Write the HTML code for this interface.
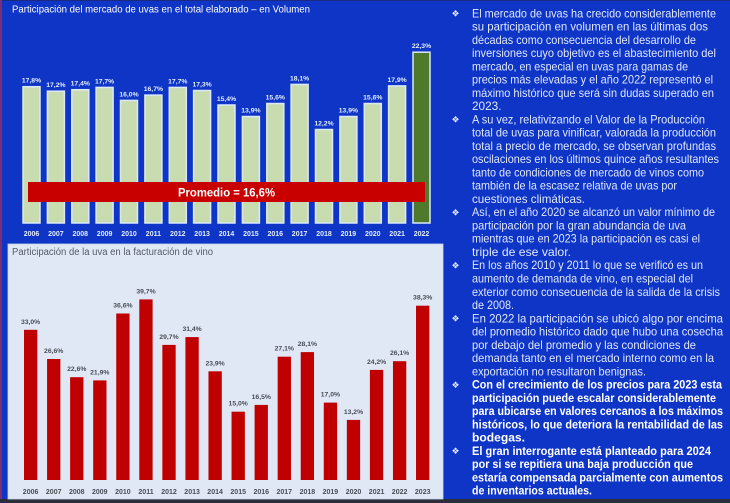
<!DOCTYPE html>
<html><head><meta charset="utf-8"><style>
html,body{margin:0;padding:0;background:#0e35c6;}
svg{display:block;}
.t{font-family:"Liberation Sans",sans-serif;font-size:11.8px;fill:#dfe7ff;}
.b{font-weight:bold;fill:#ffffff;}
.bl{font-family:"DejaVu Sans",sans-serif;font-size:9px;fill:#dfe7ff;}
.lt{font-family:"Liberation Sans",sans-serif;font-size:6.8px;font-weight:bold;fill:#e4edff;text-anchor:middle;}
.yt{font-family:"Liberation Sans",sans-serif;font-size:7px;font-weight:bold;fill:#e4edff;text-anchor:middle;}
.lb{font-family:"Liberation Sans",sans-serif;font-size:6.8px;font-weight:bold;fill:#4a4f58;text-anchor:middle;}
.yb{font-family:"Liberation Sans",sans-serif;font-size:7px;font-weight:bold;fill:#4a4f58;text-anchor:middle;}
</style></head><body>
<svg width="730" height="503" viewBox="0 0 730 503" xmlns="http://www.w3.org/2000/svg">
<rect x="0" y="0" width="730" height="503" fill="#0e35c6"/>
<rect x="0" y="0" width="730" height="1" fill="#1a2a80"/>
<rect x="0" y="0" width="2" height="503" fill="#7a2f72"/>
<rect x="0" y="499" width="730" height="4" fill="#2b2d3a"/>

<!-- top chart -->
<text x="12" y="12.5" font-family="Liberation Sans, sans-serif" font-size="10" fill="#ffffff" textLength="298" lengthAdjust="spacingAndGlyphs">Participación del mercado de uvas en el total elaborado – en Volumen</text>
<g stroke="#dbe9f7" stroke-width="1.5" fill="#c9dcb0">
<rect x="23" y="86.7" width="17" height="136.3"/>
<rect x="47.4" y="91.2" width="17" height="131.8"/>
<rect x="71.8" y="89.7" width="17" height="133.3"/>
<rect x="96.1" y="87.4" width="17" height="135.6"/>
<rect x="120.5" y="100.4" width="17" height="122.6"/>
<rect x="144.9" y="95.1" width="17" height="127.9"/>
<rect x="169.3" y="87.4" width="17" height="135.6"/>
<rect x="193.6" y="90.5" width="17" height="132.5"/>
<rect x="218" y="105" width="17" height="118"/>
<rect x="242.4" y="116.5" width="17" height="106.5"/>
<rect x="266.8" y="103.5" width="17" height="119.5"/>
<rect x="291.1" y="84.4" width="17" height="138.6"/>
<rect x="315.5" y="129.5" width="17" height="93.5"/>
<rect x="339.9" y="116.5" width="17" height="106.5"/>
<rect x="364.3" y="103.5" width="17" height="119.5"/>
<rect x="388.6" y="85.9" width="17" height="137.1"/>
<rect x="413" y="52.2" width="17" height="170.8" fill="#4f7a2c"/>
</g>
<g>
<text class="lt" x="31.5" y="82.7">17,8%</text>
<text class="lt" x="55.9" y="87.2">17,2%</text>
<text class="lt" x="80.3" y="85.7">17,4%</text>
<text class="lt" x="104.6" y="83.4">17,7%</text>
<text class="lt" x="129" y="96.4">16,0%</text>
<text class="lt" x="153.4" y="91.1">16,7%</text>
<text class="lt" x="177.8" y="83.4">17,7%</text>
<text class="lt" x="202.1" y="86.5">17,3%</text>
<text class="lt" x="226.5" y="101">15,4%</text>
<text class="lt" x="250.9" y="112.5">13,9%</text>
<text class="lt" x="275.3" y="99.5">15,6%</text>
<text class="lt" x="299.6" y="80.4">18,1%</text>
<text class="lt" x="324" y="125.5">12,2%</text>
<text class="lt" x="348.4" y="112.5">13,9%</text>
<text class="lt" x="372.8" y="99.5">15,6%</text>
<text class="lt" x="397.1" y="81.9">17,9%</text>
<text class="lt" x="421.5" y="48.2">22,3%</text>
</g>
<g>
<text class="yt" x="31.5" y="236">2006</text>
<text class="yt" x="55.9" y="236">2007</text>
<text class="yt" x="80.3" y="236">2008</text>
<text class="yt" x="104.6" y="236">2009</text>
<text class="yt" x="129" y="236">2010</text>
<text class="yt" x="153.4" y="236">2011</text>
<text class="yt" x="177.8" y="236">2012</text>
<text class="yt" x="202.1" y="236">2013</text>
<text class="yt" x="226.5" y="236">2014</text>
<text class="yt" x="250.9" y="236">2015</text>
<text class="yt" x="275.3" y="236">2016</text>
<text class="yt" x="299.6" y="236">2017</text>
<text class="yt" x="324" y="236">2018</text>
<text class="yt" x="348.4" y="236">2019</text>
<text class="yt" x="372.8" y="236">2020</text>
<text class="yt" x="397.1" y="236">2021</text>
<text class="yt" x="421.5" y="236">2022</text>
</g>
<rect x="28" y="182" width="397" height="20" fill="#c80000"/>
<text x="226.5" y="196.5" text-anchor="middle" font-family="Liberation Sans, sans-serif" font-size="12" font-weight="bold" fill="#ffffff" textLength="97" lengthAdjust="spacingAndGlyphs">Promedio = 16,6%</text>

<!-- bottom chart -->
<rect x="8" y="244" width="435" height="255" fill="#dfe8f4" stroke="#c9d8ee" stroke-width="0.8"/>
<text x="12" y="255" font-family="Liberation Sans, sans-serif" font-size="10" fill="#555c66" textLength="201" lengthAdjust="spacingAndGlyphs">Participación de la uva en la facturación de vino</text>
<g fill="#c00000">
<rect x="24" y="329.8" width="13.3" height="150.2"/>
<rect x="47.06" y="359" width="13.3" height="121"/>
<rect x="70.12" y="377.2" width="13.3" height="102.8"/>
<rect x="93.18" y="380.4" width="13.3" height="99.6"/>
<rect x="116.24" y="313.5" width="13.3" height="166.5"/>
<rect x="139.3" y="299.4" width="13.3" height="180.6"/>
<rect x="162.36" y="344.9" width="13.3" height="135.1"/>
<rect x="185.42" y="337.1" width="13.3" height="142.9"/>
<rect x="208.48" y="371.3" width="13.3" height="108.7"/>
<rect x="231.54" y="411.7" width="13.3" height="68.3"/>
<rect x="254.6" y="404.9" width="13.3" height="75.1"/>
<rect x="277.66" y="356.7" width="13.3" height="123.3"/>
<rect x="300.72" y="352.1" width="13.3" height="127.9"/>
<rect x="323.78" y="402.6" width="13.3" height="77.4"/>
<rect x="346.84" y="419.9" width="13.3" height="60.1"/>
<rect x="369.9" y="369.9" width="13.3" height="110.1"/>
<rect x="392.96" y="361.2" width="13.3" height="118.8"/>
<rect x="416.02" y="305.7" width="13.3" height="174.3"/>
</g>
<g>
<text class="lb" x="30.6" y="323.8">33,0%</text>
<text class="lb" x="53.7" y="353">26,6%</text>
<text class="lb" x="76.8" y="371.2">22,6%</text>
<text class="lb" x="99.8" y="374.4">21,9%</text>
<text class="lb" x="122.9" y="307.5">36,6%</text>
<text class="lb" x="146" y="293.4">39,7%</text>
<text class="lb" x="169" y="338.9">29,7%</text>
<text class="lb" x="192.1" y="331.1">31,4%</text>
<text class="lb" x="215.1" y="365.3">23,9%</text>
<text class="lb" x="238.2" y="405.7">15,0%</text>
<text class="lb" x="261.3" y="398.9">16,5%</text>
<text class="lb" x="284.3" y="350.7">27,1%</text>
<text class="lb" x="307.4" y="346.1">28,1%</text>
<text class="lb" x="330.4" y="396.6">17,0%</text>
<text class="lb" x="353.5" y="413.9">13,2%</text>
<text class="lb" x="376.6" y="363.9">24,2%</text>
<text class="lb" x="399.6" y="355.2">26,1%</text>
<text class="lb" x="422.7" y="299.7">38,3%</text>
</g>
<g>
<text class="yb" x="30.6" y="494">2006</text>
<text class="yb" x="53.7" y="494">2007</text>
<text class="yb" x="76.8" y="494">2008</text>
<text class="yb" x="99.8" y="494">2009</text>
<text class="yb" x="122.9" y="494">2010</text>
<text class="yb" x="146" y="494">2011</text>
<text class="yb" x="169" y="494">2012</text>
<text class="yb" x="192.1" y="494">2013</text>
<text class="yb" x="215.1" y="494">2014</text>
<text class="yb" x="238.2" y="494">2015</text>
<text class="yb" x="261.3" y="494">2016</text>
<text class="yb" x="284.3" y="494">2017</text>
<text class="yb" x="307.4" y="494">2018</text>
<text class="yb" x="330.4" y="494">2019</text>
<text class="yb" x="353.5" y="494">2020</text>
<text class="yb" x="376.6" y="494">2021</text>
<text class="yb" x="399.6" y="494">2022</text>
<text class="yb" x="422.7" y="494">2023</text>
</g>

<!-- right text panel -->
<g>
<text class="bl" x="451.5" y="16.5">❖</text>
<text class="bl" x="451.5" y="122.6">❖</text>
<text class="bl" x="451.5" y="215.4">❖</text>
<text class="bl" x="451.5" y="268.5">❖</text>
<text class="bl" x="451.5" y="321.5">❖</text>
<text class="bl" x="451.5" y="387.8">❖</text>
<text class="bl" x="451.5" y="454.1">❖</text>
</g>
<g>
<text class="t" x="472" y="17.3" textLength="244" lengthAdjust="spacingAndGlyphs">El mercado de uvas ha crecido considerablemente</text>
<text class="t" x="472" y="30.56" textLength="236" lengthAdjust="spacingAndGlyphs">su participación en volumen en las últimas dos</text>
<text class="t" x="472" y="43.82" textLength="224" lengthAdjust="spacingAndGlyphs">décadas como consecuencia del desarrollo de</text>
<text class="t" x="472" y="57.08" textLength="244" lengthAdjust="spacingAndGlyphs">inversiones cuyo objetivo es el abastecimiento del</text>
<text class="t" x="472" y="70.34" textLength="216" lengthAdjust="spacingAndGlyphs">mercado, en especial en uvas para gamas de</text>
<text class="t" x="472" y="83.6" textLength="241" lengthAdjust="spacingAndGlyphs">precios más elevadas y el año 2022 representó el</text>
<text class="t" x="472" y="96.86" textLength="242" lengthAdjust="spacingAndGlyphs">máximo histórico que será sin dudas superado en</text>
<text class="t" x="472" y="110.12">2023.</text>
<text class="t" x="472" y="123.38" textLength="233" lengthAdjust="spacingAndGlyphs">A su vez, relativizando el Valor de la Producción</text>
<text class="t" x="472" y="136.64" textLength="244" lengthAdjust="spacingAndGlyphs">total de uvas para vinificar, valorada la producción</text>
<text class="t" x="472" y="149.9" textLength="244" lengthAdjust="spacingAndGlyphs">total a precio de mercado, se observan profundas</text>
<text class="t" x="472" y="163.16" textLength="247" lengthAdjust="spacingAndGlyphs">oscilaciones en los últimos quince años resultantes</text>
<text class="t" x="472" y="176.42" textLength="232" lengthAdjust="spacingAndGlyphs">tanto de condiciones de mercado de vinos como</text>
<text class="t" x="472" y="189.68" textLength="205" lengthAdjust="spacingAndGlyphs">también de la escasez relativa de uvas por</text>
<text class="t" x="472" y="202.94" textLength="113" lengthAdjust="spacingAndGlyphs">cuestiones climáticas.</text>
<text class="t" x="472" y="216.2" textLength="243" lengthAdjust="spacingAndGlyphs">Así, en el año 2020 se alcanzó un valor mínimo de</text>
<text class="t" x="472" y="229.46" textLength="214" lengthAdjust="spacingAndGlyphs">participación por la gran abundancia de uva</text>
<text class="t" x="472" y="242.72" textLength="228" lengthAdjust="spacingAndGlyphs">mientras que en 2023 la participación es casi el</text>
<text class="t" x="472" y="255.98" textLength="99" lengthAdjust="spacingAndGlyphs">triple de ese valor.</text>
<text class="t" x="472" y="269.24" textLength="231" lengthAdjust="spacingAndGlyphs">En los años 2010 y 2011 lo que se verificó es un</text>
<text class="t" x="472" y="282.5" textLength="221" lengthAdjust="spacingAndGlyphs">aumento de demanda de vino, en especial del</text>
<text class="t" x="472" y="295.76" textLength="248" lengthAdjust="spacingAndGlyphs">exterior como consecuencia de la salida de la crisis</text>
<text class="t" x="472" y="309.02" textLength="42" lengthAdjust="spacingAndGlyphs">de 2008.</text>
<text class="t" x="472" y="322.28" textLength="251" lengthAdjust="spacingAndGlyphs">En 2022 la participación se ubicó algo por encima</text>
<text class="t" x="472" y="335.54" textLength="251" lengthAdjust="spacingAndGlyphs">del promedio histórico dado que hubo una cosecha</text>
<text class="t" x="472" y="348.8" textLength="224" lengthAdjust="spacingAndGlyphs">por debajo del promedio y las condiciones de</text>
<text class="t" x="472" y="362.06" textLength="242" lengthAdjust="spacingAndGlyphs">demanda tanto en el mercado interno como en la</text>
<text class="t" x="472" y="375.32" textLength="174" lengthAdjust="spacingAndGlyphs">exportación no resultaron benignas.</text>
<text class="t b" x="472" y="388.58" textLength="250" lengthAdjust="spacingAndGlyphs">Con el crecimiento de los precios para 2023 esta</text>
<text class="t b" x="472" y="401.84" textLength="244" lengthAdjust="spacingAndGlyphs">participación puede escalar considerablemente</text>
<text class="t b" x="472" y="415.1" textLength="251" lengthAdjust="spacingAndGlyphs">para ubicarse en valores cercanos a los máximos</text>
<text class="t b" x="472" y="428.36" textLength="251" lengthAdjust="spacingAndGlyphs">históricos, lo que deteriora la rentabilidad de las</text>
<text class="t b" x="472" y="441.62" textLength="53" lengthAdjust="spacingAndGlyphs">bodegas.</text>
<text class="t b" x="472" y="454.88" textLength="239" lengthAdjust="spacingAndGlyphs">El gran interrogante está planteado para 2024</text>
<text class="t b" x="472" y="468.14" textLength="221" lengthAdjust="spacingAndGlyphs">por si se repitiera una baja producción que</text>
<text class="t b" x="472" y="481.4" textLength="251" lengthAdjust="spacingAndGlyphs">estaría compensada parcialmente con aumentos</text>
<text class="t b" x="472" y="494.66" textLength="120" lengthAdjust="spacingAndGlyphs">de inventarios actuales.</text>
</g>
</svg>
</body></html>
